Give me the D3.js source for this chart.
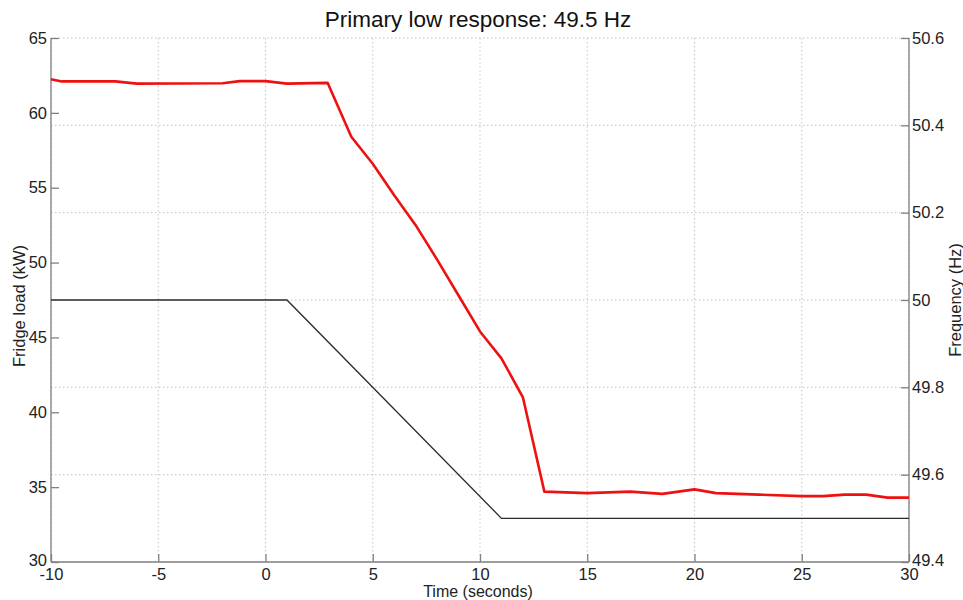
<!DOCTYPE html>
<html>
<head>
<meta charset="utf-8">
<script src="https://cdn.jsdelivr.net/npm/d3@7"></script>
<style>
  html, body { margin: 0; padding: 0; background: #fff; }
  svg { display: block; font-family: "Liberation Sans", Arial, sans-serif; }
</style>
</head>
<body>
<svg id="chart" width="963" height="600"></svg>
<script>
// Fridge load (kW), left axis
const loadTime = [-10, -9.5, -7, -6, -2, -1.2, 0, 1, 2.9, 4, 5, 6, 7, 8, 9, 10, 11, 12, 13,
  15, 17, 18.5, 20, 21, 23, 25, 26, 27, 28, 29, 30];
const loadKW = [62.25, 62.1, 62.1, 61.95, 61.98, 62.12, 62.12, 61.95, 62.0, 58.4, 56.6, 54.5,
  52.5, 50.2, 47.8, 45.4, 43.6, 41.0, 34.7,
  34.6, 34.7, 34.55, 34.85, 34.6, 34.5, 34.4, 34.4, 34.5, 34.5, 34.3, 34.3];

// Grid frequency (Hz), right axis
const freqTime = [-10, 1, 11, 30];
const freqHz = [50.0, 50.0, 49.5, 49.5];

const xTicks = [-10, -5, 0, 5, 10, 15, 20, 25, 30];
const leftTicks = [30, 35, 40, 45, 50, 55, 60, 65];
const rightTicks = [49.4, 49.6, 49.8, 50.0, 50.2, 50.4, 50.6];

const svg = d3.select("#chart");
const L = 51, R = 909, T = 38, B = 562;

const x = d3.scaleLinear().domain([-10, 30]).range([L, R]);
const yL = d3.scaleLinear().domain([30, 65]).range([B, T]);
const yR = d3.scaleLinear().domain([49.4, 50.6]).range([B, T]);

const axisColor = "#808080";
const gridColor = "#c4c4c4";

// grid
const grid = svg.append("g");
grid.selectAll("line.v").data(xTicks).join("line")
  .attr("x1", d => x(d)).attr("x2", d => x(d))
  .attr("y1", T).attr("y2", B)
  .attr("stroke", gridColor).attr("stroke-width", 1)
  .attr("stroke-dasharray", "1.5,2.5");
grid.selectAll("line.h").data(rightTicks).join("line")
  .attr("x1", L).attr("x2", R)
  .attr("y1", d => yR(d)).attr("y2", d => yR(d))
  .attr("stroke", gridColor).attr("stroke-width", 1)
  .attr("stroke-dasharray", "1.5,2.5");

// axes
function styleAxis(g) {
  g.attr("font-size", 16.5).attr("font-family", "Liberation Sans, Arial, sans-serif");
  g.select(".domain").remove();
  g.selectAll(".tick line").attr("stroke", axisColor).attr("stroke-width", 1.3);
  g.selectAll(".tick text").attr("fill", "#222");
}
const plain = d => String(d);
const oneDec = d => d.toFixed(1).replace(/\.0$/, "");

const gx = svg.append("g").attr("transform", `translate(0,${B})`)
  .call(d3.axisBottom(x).tickValues(xTicks).tickFormat(plain)
    .tickSizeInner(-8).tickSizeOuter(0).tickPadding(6));
styleAxis(gx);

const gl = svg.append("g").attr("transform", `translate(${L},0)`)
  .call(d3.axisLeft(yL).tickValues(leftTicks).tickFormat(plain)
    .tickSizeInner(-8).tickSizeOuter(0).tickPadding(4));
styleAxis(gl);
// lift the lowest label a little so it clears the time labels
gl.selectAll(".tick text").filter(d => d === 30).attr("dy", "0.2em");

const gr = svg.append("g").attr("transform", `translate(${R},0)`)
  .call(d3.axisRight(yR).tickValues(rightTicks).tickFormat(oneDec)
    .tickSizeInner(-8).tickSizeOuter(0).tickPadding(3));
styleAxis(gr);
gr.selectAll(".tick text").filter(d => d === 49.4).attr("dy", "0.2em");

// axis frame: left, right, bottom
const frame = svg.append("g").attr("stroke", axisColor).attr("stroke-width", 1.3);
frame.append("line").attr("x1", L).attr("x2", L).attr("y1", T).attr("y2", B);
frame.append("line").attr("x1", R).attr("x2", R).attr("y1", T).attr("y2", B);
frame.append("line").attr("x1", L).attr("x2", R).attr("y1", B).attr("y2", B);

// frequency line
const freqLine = d3.line().x((d, i) => x(freqTime[i])).y(d => yR(d));
svg.append("path").datum(freqHz)
  .attr("d", freqLine)
  .attr("fill", "none").attr("stroke", "#2a2a2a").attr("stroke-width", 1.3);

// load line
const loadLine = d3.line().x((d, i) => x(loadTime[i])).y(d => yL(d));
svg.append("path").datum(loadKW)
  .attr("d", loadLine)
  .attr("fill", "none").attr("stroke", "#ee1111").attr("stroke-width", 2.6)
  .attr("stroke-linejoin", "round");

// labels
svg.append("text").attr("x", 478).attr("y", 27).attr("text-anchor", "middle")
  .attr("font-size", 22.5).attr("fill", "#111").text("Primary low response: 49.5 Hz");
svg.append("text").attr("x", 478).attr("y", 597).attr("text-anchor", "middle")
  .attr("font-size", 16).attr("fill", "#222").text("Time (seconds)");
svg.append("text").attr("transform", "translate(25,306) rotate(-90)").attr("text-anchor", "middle")
  .attr("font-size", 16.5).attr("fill", "#222").text("Fridge load (kW)");
svg.append("text").attr("transform", "translate(961,300) rotate(-90)").attr("text-anchor", "middle")
  .attr("font-size", 16.5).attr("fill", "#222").text("Frequency (Hz)");
</script>
</body>
</html>
